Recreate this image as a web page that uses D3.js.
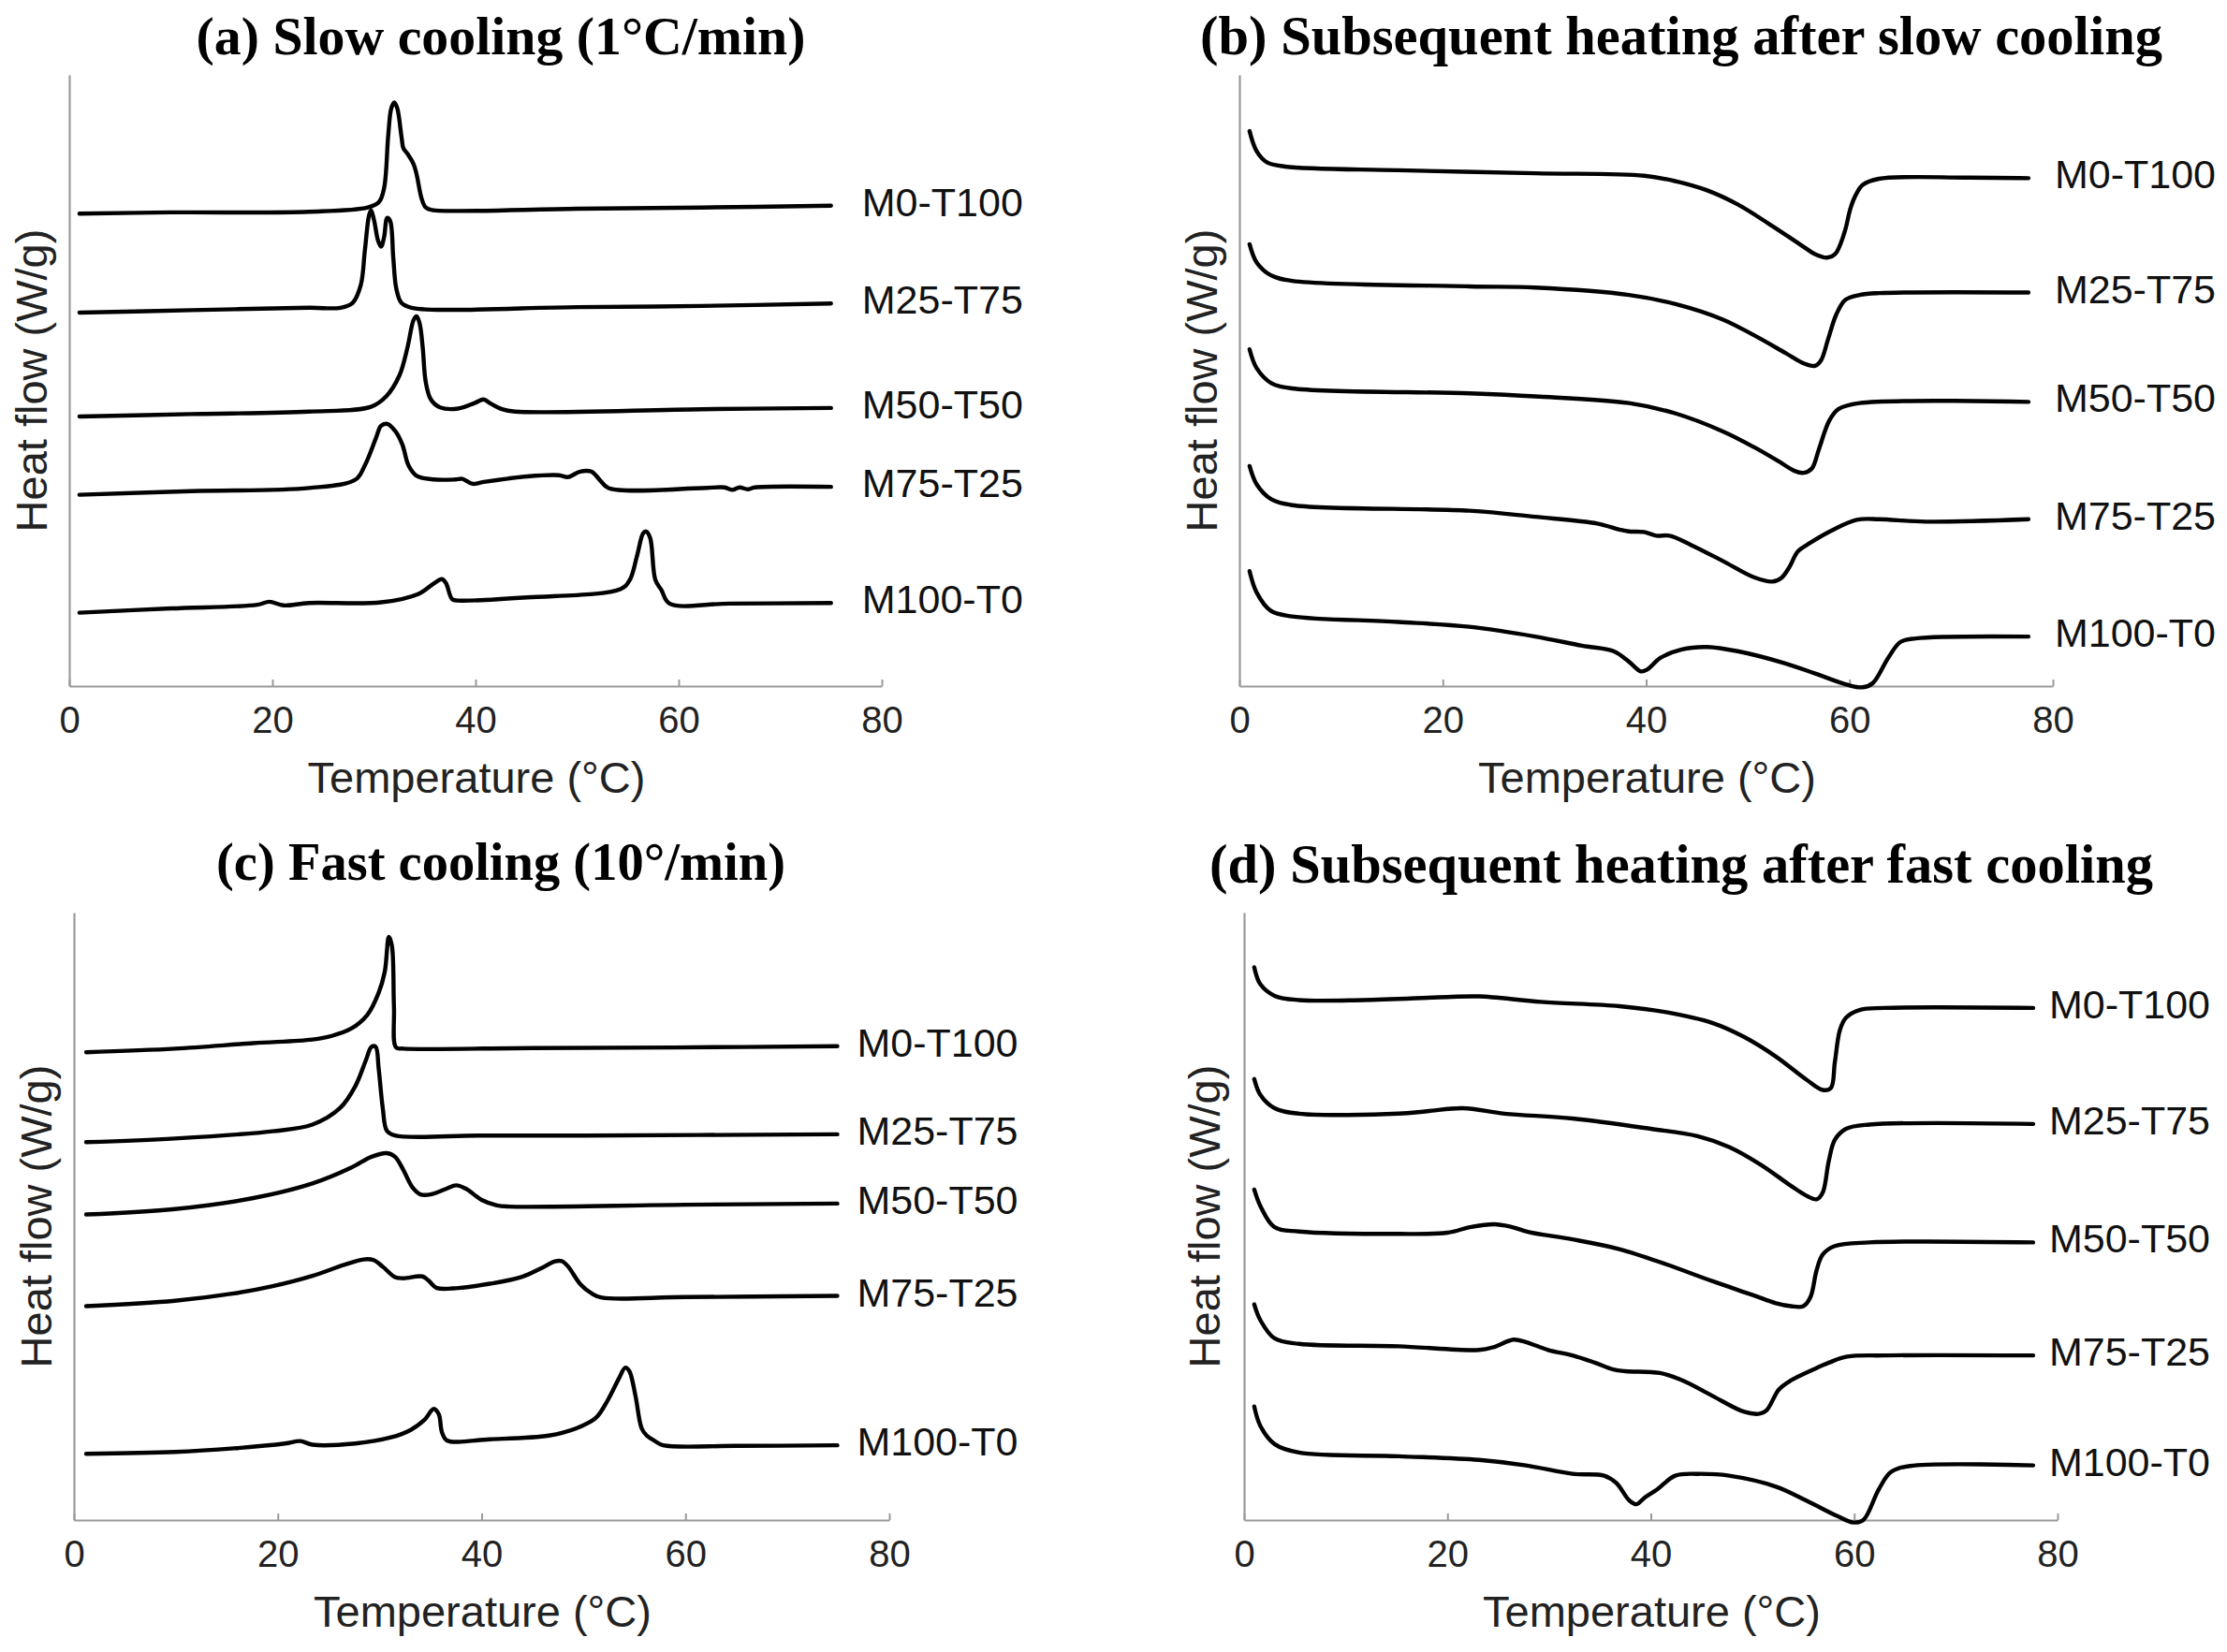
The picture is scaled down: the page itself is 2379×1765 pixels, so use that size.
<!DOCTYPE html>
<html><head><meta charset="utf-8">
<script src="https://cdn.jsdelivr.net/npm/d3@7"></script>
<style>body{margin:0;background:#fff}svg{display:block}</style>
</head><body>
<svg id="chart" width="2379" height="1765"></svg>
<script>
// ---------- DATA ----------
const seriesNames = ["M0-T100","M25-T75","M50-T50","M75-T25","M100-T0"];
const xTicks = [0,20,40,60,80];
const panelTitles = [
  "(a) Slow cooling (1°C/min)",
  "(b) Subsequent heating after slow cooling",
  "(c) Fast cooling (10°/min)",
  "(d) Subsequent heating after fast cooling"
];
const xTitle = "Temperature (°C)";
const yTitle = "Heat flow (W/g)";

// Panel (a): slow cooling  [temperature °C, heat flow (vertically offset, arb. units)]
const a_M0T100 = [[1,77.3],[10,77.5],[23.6,77.6],[29.4,78.3],[30.5,79.2],[31,81.5],[31.4,90],[31.7,94.5],[32,95.5],[32.3,94.5],[32.7,90],[32.9,88],[33.3,87.1],[33.9,85.4],[34.2,83.7],[34.7,79.7],[35.1,78.3],[35.7,77.9],[50,78.1],[62.3,78.3],[75,78.6]];
const a_M25T75 = [[1,61.1],[12,61.5],[23.6,61.9],[26.7,61.9],[27.9,62.7],[28.7,65.6],[29.1,71.2],[29.5,76.9],[29.7,77.8],[30,76.3],[30.4,72.9],[30.7,71.9],[31,73.5],[31.3,76.6],[31.6,76.1],[31.9,70.1],[32.2,65],[32.7,62.7],[33.7,61.9],[50,62],[62.3,62.2],[75,62.6]];
const a_M50T50 = [[1,44.1],[12,44.5],[23.6,44.9],[29.7,45.7],[31.2,47.4],[32.5,50.8],[33.3,55.4],[33.9,59.9],[34.2,60.5],[34.5,59.3],[34.8,55.4],[35.1,49.7],[35.6,46.9],[36.5,45.6],[38.3,45.4],[39.9,46.3],[40.8,46.9],[41.4,46.3],[42.6,45.3],[43.9,44.9],[62.3,45.3],[75,45.5]];
const a_M75T25 = [[1,31.3],[12,31.9],[23.6,32.4],[28.2,33.8],[29.1,36.1],[30.2,40.6],[30.7,42.6],[31.3,42.9],[32.1,41.7],[32.8,39.5],[33.4,36.1],[34.2,34.4],[35.9,33.8],[38,33.8],[38.7,33.9],[39.7,33.1],[40.8,33.4],[45.1,34.3],[48.2,34.5],[49.1,34.2],[50.3,35.1],[51.4,35.1],[52.2,33.8],[53.1,32.4],[62.3,32.4],[64.5,32.5],[65.3,32.1],[66,32.5],[66.8,32.2],[67.5,32.5],[75,32.6]];
const a_M100T0 = [[1,12],[10,12.7],[18.5,13.3],[19.7,13.8],[21.1,13.2],[23.6,13.6],[30.7,13.7],[34.4,15.1],[35.9,16.8],[36.7,17.5],[37.1,16.8],[37.7,14.2],[38.3,14],[45.1,14.5],[54.3,15.9],[55.2,17.4],[55.9,21.3],[56.5,25],[56.8,25.3],[57.2,24.2],[57.7,17.4],[58.3,15.7],[59.1,13.5],[65,13.5],[75,13.6]];

// Panel (b): heating after slow cooling
const b_M0T100 = [[1,90.8],[1.7,87.5],[2.7,85.7],[4.5,85],[15.6,84.4],[29.1,83.9],[39.8,83.5],[42.9,82.6],[46,81.1],[49,78.8],[52.1,75.6],[55.2,72.2],[56.7,70.6],[57.8,70.1],[58.6,70.7],[59.5,74.2],[60.1,78.2],[60.6,80.3],[61.3,82],[62.9,83],[71.5,83.2],[77.6,83.1]];
const b_M25T75 = [[1,72.3],[1.7,69.3],[3.1,67.2],[5.2,66.3],[22.6,65.4],[29.1,65.2],[38.3,64],[42.9,62.5],[47.5,60],[50.6,57.4],[53.7,54.5],[55.5,52.8],[56.6,52.4],[57.2,53.3],[57.9,56.8],[58.7,60.8],[59.6,63.2],[61,64],[62.9,64.3],[77.6,64.4]];
const b_M50T50 = [[1,55.1],[1.7,52],[3.1,49.6],[5.2,48.7],[22.6,47.9],[29.1,47.4],[38.3,46.3],[42.9,44.6],[47.5,41.7],[50.6,39.1],[53,36.8],[54.6,35.2],[55.5,34.9],[56.3,35.6],[57,38.8],[58,43.4],[58.9,45.3],[61,46.3],[77.6,46.5]];
const b_M75T25 = [[1,36],[1.7,33],[3.1,30.6],[5.2,29.6],[22.6,28.7],[29.1,27.7],[35.2,26.6],[37.4,25.6],[38.3,25.3],[39.8,25.2],[41,24.6],[42.3,24.6],[44.4,23.1],[47.5,20.5],[50.6,17.8],[52.4,17.1],[53.3,17.7],[54.1,19.5],[54.9,22],[56.1,23.4],[58.3,25.5],[60.7,27.2],[62.9,27.3],[67.5,26.9],[77.6,27.3]];
const b_M100T0 = [[1,18.8],[1.7,15.3],[3.1,12.3],[5.2,11.4],[15.6,10.5],[22.6,9.7],[29.1,8.1],[33.7,6.6],[36.8,5.7],[38.3,4],[39.5,2.4],[40.1,2.7],[41.4,4.6],[43.5,6],[46,6.4],[49,5.7],[53.7,3.7],[56.7,2],[59.8,0.2],[61.3,-0.2],[62.3,0.5],[63.8,4.6],[65,7.2],[66.5,7.8],[77.6,8.1]];

// Panel (c): fast cooling
const c_M0T100 = [[1.2,77],[9.9,77.6],[17.6,78.5],[23.4,79.1],[25.3,79.7],[27.2,80.9],[28.8,83.2],[29.9,86.8],[30.5,90.3],[30.9,96],[31.2,94.5],[31.4,84.4],[31.6,77.8],[32.3,77.6],[45,77.7],[58.9,77.8],[74.9,78]];
const c_M25T75 = [[1.2,62.2],[9.9,62.8],[19.5,64],[23.4,65.1],[26.1,67.8],[27.6,71.4],[28.6,75.5],[29.2,77.9],[29.6,77.9],[29.9,74.3],[30.3,67.8],[30.7,64.1],[31.5,63.3],[40,63.3],[50,63.3],[74.9,63.5]];
const c_M50T50 = [[1.2,50.3],[9.9,51.2],[17.6,53],[23.4,55.4],[27.2,58],[29.2,59.8],[30.7,60.4],[31.5,59.8],[32.3,57.7],[33.2,54.8],[34,53.6],[35,53.6],[36.5,54.5],[37.5,55.1],[38.5,54.5],[40,52.7],[41.5,51.8],[42.7,51.6],[60,51.9],[74.9,52.1]];
const c_M75T25 = [[1.2,35.2],[9.9,36.1],[15.7,37.3],[19.5,38.5],[23.4,40.2],[26.5,42],[28.4,42.9],[29.4,42.8],[30.3,41.7],[31.5,40],[32.3,39.8],[34.2,40.1],[34.8,39.4],[35.6,38.2],[37.7,38.2],[40.8,38.9],[43.9,40],[45.8,41.4],[47.2,42.6],[47.9,42.6],[48.5,41.7],[49.7,38.8],[50.8,37.3],[51.8,36.6],[60,36.7],[74.9,36.9]];
const c_M100T0 = [[1.2,10.9],[9.9,11.2],[15.7,11.8],[20.7,12.6],[22.2,13],[23.4,12.4],[27.6,12.6],[31.1,13.6],[33,14.8],[34.4,16.5],[35.3,18.3],[35.8,17.4],[36.1,14.5],[36.6,13.1],[40.8,13.3],[46.6,13.9],[49.3,15.1],[51.2,16.8],[52.4,19.8],[53.5,23.4],[54.1,25.1],[54.5,24.5],[55.1,20.4],[55.7,15.1],[56.2,13.9],[57,13],[57.8,12.3],[65,12.2],[74.9,12.3]];

// Panel (d): heating after fast cooling
const d_M0T100 = [[1,91],[1.6,88.2],[3,86.3],[5.4,85.6],[11.7,85.6],[20,86.1],[23.1,86.2],[29.2,85.3],[36.9,84.6],[41.5,83.6],[46.1,81.8],[49.2,79.5],[52.3,76.3],[55.3,72.5],[56.9,70.8],[57.7,71.1],[58.1,75.4],[58.6,80.7],[59.2,82.7],[60.6,84],[63,84.3],[77.6,84.3]];
const d_M25T75 = [[1,72.6],[1.6,70],[3,67.8],[5.4,66.9],[15.2,66.9],[18,67.3],[21.5,67.8],[25.6,66.9],[32.3,66.1],[40,64.4],[44.6,63.2],[47.7,61.4],[50.8,58.5],[53.8,55],[55.4,53.3],[56.3,52.8],[56.9,53.9],[57.5,59.1],[58.1,62.6],[59.2,64.4],[61.5,65.1],[77.6,65.2]];
const d_M50T50 = [[1,54.4],[1.6,51.7],[3,48.2],[5.4,47.5],[15.2,47.1],[20,47.3],[22.2,48.2],[24.6,48.7],[26.2,48.3],[28,47.4],[32.3,46.2],[36.9,44.6],[41.5,42.1],[46.1,39.3],[50.1,37],[52.3,35.7],[53.8,35.2],[55,35.2],[55.7,36.7],[56.3,41.1],[56.9,43.7],[58.1,45.1],[61.5,45.7],[77.6,45.7]];
const d_M75T25 = [[1,35.5],[1.6,32.9],[3,29.9],[5.4,29],[15.2,28.6],[23.1,28],[24.6,28.5],[26.5,29.7],[27.7,29.3],[29.9,28],[32.3,27.1],[34.5,25.9],[36.3,24.8],[37.5,24.5],[40.9,24.2],[43.1,23],[46.1,20.4],[49.2,17.8],[50.7,17.5],[51.4,18.1],[52.6,21.5],[53.8,23],[56,24.8],[57.5,25.9],[59.3,26.9],[63,27.1],[77.6,27.1]];
const d_M100T0 = [[1,18.7],[1.6,15.5],[3,12.5],[5.4,11.1],[15.2,10.5],[23.1,9.9],[27.7,9],[32.3,7.6],[35.4,7.3],[36.6,6.1],[37.9,3.2],[38.6,2.6],[39.4,3.7],[40.6,5],[42.4,7.3],[44.6,7.6],[47.7,7.3],[52.3,5.5],[55.3,3.2],[58.4,0.6],[59.9,-0.4],[60.9,0],[62.4,5],[63.6,7.9],[65.5,8.9],[77.6,9]];

const panelSeries = [
  [a_M0T100,a_M25T75,a_M50T50,a_M75T25,a_M100T0],
  [b_M0T100,b_M25T75,b_M50T50,b_M75T25,b_M100T0],
  [c_M0T100,c_M25T75,c_M50T50,c_M75T25,c_M100T0],
  [d_M0T100,d_M25T75,d_M50T50,d_M75T25,d_M100T0]
];

// ---------- LAYOUT ----------
const panels = [
  {x0:74,  x1:942,  yT:80,  yB:733,  titleX:535,  titleY:58,  titleW:651,  labelDx:33, yTitleX:33},
  {x0:1324,x1:2193, yT:80,  yB:733,  titleX:1796, titleY:58,  titleW:1028, labelDx:28, yTitleX:1283},
  {x0:79,  x1:950,  yT:975, yB:1624, titleX:535,  titleY:940, titleW:608,  labelDx:21, yTitleX:38},
  {x0:1329,x1:2198, yT:975, yB:1624, titleX:1796, titleY:943, titleW:1008, labelDx:17, yTitleX:1286}
];

const svg = d3.select("#chart");
const sans = "'Liberation Sans', Arial, sans-serif";
const serif = "'Liberation Serif', 'Times New Roman', serif";
const axisColor = "#9a9a9a";

panels.forEach((p, i) => {
  const x = d3.scaleLinear().domain([0,80]).range([p.x0, p.x1]);
  const y = d3.scaleLinear().domain([0,100]).range([p.yB, p.yT]);
  const g = svg.append("g");

  // title
  const t = g.append("text").attr("x", p.titleX).attr("y", p.titleY)
    .attr("text-anchor","middle").attr("font-family", serif).attr("font-weight","bold")
    .attr("font-size", 56).attr("fill","#000").text(panelTitles[i]);
  const w = t.node().getComputedTextLength();
  t.attr("font-size", 56 * p.titleW / w);

  // x axis
  const xAxis = d3.axisBottom(x).tickValues(xTicks).tickSize(-7).tickPadding(22).tickSizeOuter(0);
  const ax = g.append("g").attr("transform", `translate(0,${p.yB})`).call(xAxis);
  ax.select(".domain").attr("stroke", axisColor).attr("stroke-width", 2.2);
  ax.selectAll(".tick line").attr("stroke", axisColor).attr("stroke-width", 2);
  ax.selectAll(".tick text").attr("font-family", sans).attr("font-size", 40).attr("fill","#222").attr("dy","0.71em");

  // y axis line (no ticks)
  const yAxis = d3.axisLeft(y).tickValues([]).tickSizeOuter(0);
  const ay = g.append("g").attr("transform", `translate(${p.x0},0)`).call(yAxis);
  ay.select(".domain").attr("stroke", axisColor).attr("stroke-width", 2.2);

  // axis titles
  g.append("text").attr("x", (p.x0+p.x1)/2 + 1).attr("y", p.yB + 114)
    .attr("text-anchor","middle").attr("font-family", sans).attr("font-size", 47).attr("fill","#222").text(xTitle);
  g.append("text").attr("transform", `translate(${p.yTitleX},${(p.yT+p.yB)/2}) rotate(-90)`)
    .attr("text-anchor","middle").attr("dy","0.36em").attr("font-family", sans).attr("font-size", 47).attr("fill","#222").text(yTitle);

  // curves
  const line = d3.line().x(d => x(d[0])).y(d => y(d[1])).curve(d3.curveCatmullRom.alpha(0.5));
  panelSeries[i].forEach((data, k) => {
    g.append("path").datum(data).attr("d", line)
      .attr("fill","none").attr("stroke","#000").attr("stroke-width", 4.4)
      .attr("stroke-linejoin","round").attr("stroke-linecap","round");
    const last = data[data.length-1];
    g.append("text").attr("x", x(last[0]) + p.labelDx).attr("y", y(last[1]) - 4)
      .attr("dy","0.35em").attr("font-family", sans).attr("font-size", 43).attr("fill","#111")
      .text(seriesNames[k]);
  });
});
</script>
</body></html>
